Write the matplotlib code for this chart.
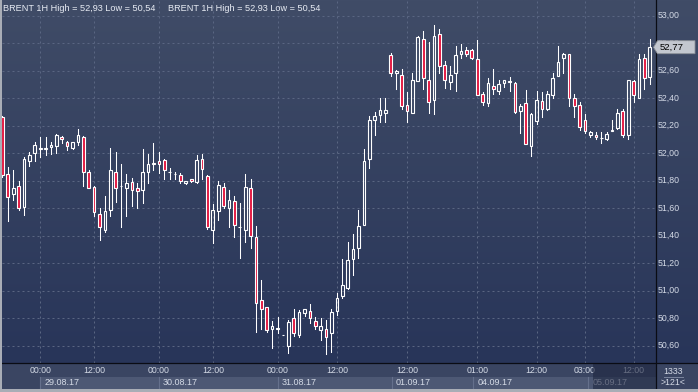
import numpy as np
import matplotlib
matplotlib.use("Agg")
import matplotlib.pyplot as plt
import matplotlib.transforms as mtransforms
from matplotlib.patches import Rectangle, Polygon
from matplotlib.lines import Line2D

plt.rcParams['font.family'] = ['Liberation Sans', 'DejaVu Sans']

# ---------------- data (BRENT 1H candles) ----------------
opens = [52.26, 51.85, 51.70, 51.76, 51.61, 51.945, 52.00, 52.03, 52.03, 52.045,
         52.05, 52.115, 52.08, 52.035, 52.085, 52.115, 51.865, 51.755, 51.555, 51.445,
         51.59, 51.865, 51.76, 51.75, 51.79, 51.75, 51.735, 51.865, 51.925, 51.94,
         51.95, 51.86, 51.846, 51.84, 51.78, 51.81, 51.79, 51.96, 51.835, 51.445,
         51.58, 51.755, 51.605, 51.65, 51.465, 51.445, 51.75, 51.39, 50.93, 50.88,
         50.725, 50.724, 50.678, 50.60, 50.80, 50.675, 50.835, 50.855, 50.78, 50.715,
         50.725, 50.69, 50.855, 50.96, 51.02, 51.23, 51.31, 51.48, 51.955, 52.245,
         52.28, 52.295, 52.715, 52.58, 52.57, 52.35, 52.295, 52.525, 52.83, 52.535,
         52.39, 52.87, 52.64, 52.52, 52.58, 52.725, 52.75, 52.75, 52.685, 52.43,
         52.365, 52.49, 52.455, 52.51, 52.52, 52.51, 52.31, 52.365, 52.055, 52.235,
         52.38, 52.325, 52.425, 52.565, 52.69, 52.72, 52.40, 52.35, 52.24, 52.135,
         52.13, 52.112, 52.105, 52.165, 52.18, 52.31, 52.13, 52.525, 52.405, 52.695,
         52.555]
highs = [52.27, 51.90, 51.88, 51.80, 51.97, 52.01, 52.08, 52.12, 52.115, 52.085,
         52.14, 52.125, 52.09, 52.085, 52.175, 52.125, 51.88, 51.76, 51.60, 51.69,
         52.035, 52.01, 51.92, 51.85, 51.82, 51.78, 52.03, 51.995, 52.075, 52.01,
         51.955, 51.895, 51.865, 51.855, 51.80, 51.815, 51.985, 51.995, 51.84, 51.63,
         51.795, 51.785, 51.73, 51.69, 51.635, 51.85, 51.81, 51.47, 51.08, 50.885,
         50.78, 50.81, 50.68, 50.785, 50.865, 50.86, 50.87, 50.90, 50.81, 50.80,
         50.785, 50.865, 50.98, 51.23, 51.355, 51.415, 51.59, 52.03, 52.27, 52.30,
         52.405, 52.405, 52.73, 52.605, 52.61, 52.445, 52.585, 52.85, 52.89, 52.81,
         52.93, 52.90, 52.67, 52.635, 52.78, 52.795, 52.775, 52.755, 52.825, 52.445,
         52.55, 52.61, 52.53, 52.535, 52.555, 52.515, 52.36, 52.46, 52.29, 52.455,
         52.445, 52.455, 52.585, 52.78, 52.73, 52.725, 52.43, 52.375, 52.285, 52.16,
         52.155, 52.155, 52.155, 52.24, 52.32, 52.32, 52.535, 52.53, 52.72, 52.72,
         52.83]
lows = [51.83, 51.51, 51.66, 51.59, 51.55, 51.91, 51.94, 51.97, 51.985, 51.995,
        52.00, 52.075, 52.02, 52.03, 52.06, 51.76, 51.745, 51.54, 51.37, 51.43,
        51.54, 51.645, 51.465, 51.54, 51.615, 51.605, 51.635, 51.785, 51.88, 51.855,
        51.81, 51.815, 51.815, 51.785, 51.775, 51.79, 51.78, 51.81, 51.45, 51.35,
        51.515, 51.605, 51.46, 51.39, 51.235, 51.355, 51.31, 50.70, 50.725, 50.70,
        50.585, 50.69, 50.675, 50.55, 50.67, 50.66, 50.815, 50.765, 50.725, 50.64,
        50.54, 50.555, 50.82, 50.95, 51.01, 51.115, 51.235, 51.475, 51.895, 52.13,
        52.23, 52.23, 52.56, 52.47, 52.32, 52.23, 52.29, 52.525, 52.47, 52.295,
        52.285, 52.585, 52.475, 52.47, 52.455, 52.695, 52.705, 52.685, 52.42, 52.35,
        52.345, 52.43, 52.43, 52.48, 52.455, 52.29, 52.15, 52.065, 51.98, 52.21,
        52.265, 52.315, 52.40, 52.56, 52.58, 52.34, 52.265, 52.17, 52.145, 52.12,
        52.105, 52.075, 52.095, 52.164, 52.175, 52.12, 52.10, 52.375, 52.40, 52.47,
        52.505]
closes = [51.84, 51.68, 51.75, 51.60, 51.96, 51.99, 52.06, 52.035, 52.035, 52.06,
          52.13, 52.10, 52.05, 52.08, 52.13, 51.86, 51.75, 51.57, 51.46, 51.58,
          51.88, 51.75, 51.762, 51.78, 51.73, 51.725, 51.86, 51.92, 51.928, 51.92,
          51.875, 51.862, 51.848, 51.795, 51.80, 51.795, 51.95, 51.885, 51.46, 51.59,
          51.77, 51.615, 51.66, 51.48, 51.466, 51.755, 51.395, 50.91, 50.865, 50.715,
          50.745, 50.726, 50.679, 50.775, 50.69, 50.845, 50.865, 50.80, 50.74, 50.745,
          50.665, 50.845, 50.945, 51.04, 51.22, 51.30, 51.47, 51.94, 52.24, 52.27,
          52.315, 52.315, 52.58, 52.595, 52.34, 52.31, 52.535, 52.845, 52.55, 52.375,
          52.85, 52.635, 52.53, 52.57, 52.715, 52.745, 52.725, 52.69, 52.425, 52.37,
          52.51, 52.47, 52.505, 52.53, 52.522, 52.30, 52.345, 52.07, 52.285, 52.39,
          52.32, 52.43, 52.55, 52.665, 52.725, 52.405, 52.34, 52.19, 52.16, 52.155,
          52.115, 52.114, 52.14, 52.172, 52.29, 52.13, 52.53, 52.42, 52.685, 52.55,
          52.77]

price_ticks = [50.60, 50.80, 51.00, 51.20, 51.40, 51.60, 51.80, 52.00, 52.20, 52.40, 52.60, 52.80, 53.00]
time_tick_idx = [7, 17, 29, 39, 51, 62, 75, 88, 99, 108, 117]
time_tick_labels = ["00:00", "12:00", "00:00", "12:00", "00:00", "12:00",
                    "12:00", "01:00", "12:00", "03:00", "12:00"]
date_starts = [7, 29, 51, 72.2, 87.3, 108.6]
date_labels = ["29.08.17", "30.08.17", "31.08.17", "01.09.17", "04.09.17", "05.09.17"]
title = "BRENT 1H High = 52,93 Low = 50,54"
last_price = 52.77
info_top = "1333"
info_bottom = ">121<"

# ---------------- layout ----------------
W, H = 698, 392
fig = plt.figure(figsize=(W / 100, H / 100), dpi=100)
fx = lambda px: px / W
fy = lambda py: 1 - py / H

PLOT_L, PLOT_R, PLOT_B = 2.0, 655.7, 363.0

# gradient background
bg = fig.add_axes([0, 0, 1, 1], zorder=0)
bg.set_axis_off()
top_c = np.array([64, 76, 103]) / 255
bot_c = np.array([40, 53, 89]) / 255
t = np.linspace(0, 1, 256)[:, None]
grad = top_c * (1 - t) + bot_c * t
img = np.repeat(grad[:, None, :], 2, axis=1)
bg.imshow(img, aspect='auto', extent=[0, 1, fy(PLOT_B), 1], origin='upper')
bg.set_xlim(0, 1)
bg.set_ylim(0, 1)

ax = fig.add_axes([fx(PLOT_L), fy(PLOT_B), fx(PLOT_R) - fx(PLOT_L), PLOT_B / H], zorder=1)
ax.patch.set_alpha(0)
for s in ax.spines.values():
    s.set_visible(False)
ax.set_xticks([])
ax.set_yticks([])
ax.set_xlim((PLOT_L - 2.4) / 5.395, (PLOT_R - 2.4) / 5.395)
ax.set_ylim(53 - (PLOT_B - 15.7) / 137.5, 53 + 15.7 / 137.5)

grid_c = '#5a6682'
for p in price_ticks:
    ax.axhline(p, color=grid_c, lw=0.72, ls=(0, (2, 3)), zorder=0)
for i in time_tick_idx:
    ax.axvline(i, color=grid_c, lw=0.72, ls=(0, (2, 3)), zorder=0)

# candles
o = np.array(opens); h = np.array(highs); l = np.array(lows); c = np.array(closes)
x = np.arange(len(o))
up = c >= o
blo = np.minimum(o, c)
bhi = np.maximum(o, c)
red = '#e3163f'
bw = 0.5
for i in range(len(o)):
    ax.add_line(Line2D([x[i], x[i]], [bhi[i], h[i]], color='white', lw=0.75, zorder=2, snap=True))
    ax.add_line(Line2D([x[i], x[i]], [l[i], blo[i]], color='white', lw=0.75, zorder=2, snap=True))
    ax.add_patch(Rectangle((x[i] - bw / 2, blo[i]), bw, bhi[i] - blo[i],
                           facecolor='none' if up[i] else red,
                           edgecolor='white', lw=0.8, zorder=3, snap=True))

# title
txt_c = '#e8ecf4'
fig.text(fx(3), fy(8.5), title, color=txt_c, fontsize=6.6, va='center', ha='left', zorder=6)
fig.text(fx(168), fy(8.5), title, color=txt_c, fontsize=6.6, va='center', ha='left', zorder=6)

# bottom band
fig.add_artist(Rectangle((0, fy(389)), 1, fy(PLOT_B) - fy(389), transform=fig.transFigure,
                         facecolor='#3a4562', edgecolor='none', zorder=2))
blend_x = mtransforms.blended_transform_factory(ax.transData, fig.transFigure)
band_c = '#4d5874'
ends = date_starts[1:] + [ax.get_xlim()[1]]
for s0, s1, lab in zip(date_starts, ends, date_labels):
    fig.add_artist(Rectangle((s0, fy(388.5)), s1 - s0, fy(376.5) - fy(388.5), transform=blend_x,
                             facecolor=band_c, edgecolor='none', zorder=2.5))
    fig.add_artist(Line2D([s0, s0], [fy(389), fy(376.5)], transform=blend_x,
                          color='#65708c', lw=0.8, zorder=2.6))
    fig.text(s0 + 0.75, fy(382.5), lab, transform=blend_x, color='#d4dae6', fontsize=6.5,
             va='center', ha='left', zorder=3)
for i, lab in zip(time_tick_idx, time_tick_labels):
    fig.text(i, fy(370.5), lab, transform=blend_x, color='#d4dae6', fontsize=6.3,
             va='center', ha='center', zorder=3)

# dim overlay at bottom right of time axis
fig.add_artist(Rectangle((fx(593), fy(389)), fx(PLOT_R) - fx(593), fy(PLOT_B) - fy(389),
                         transform=fig.transFigure, facecolor='#1e2640', alpha=0.6,
                         edgecolor='none', zorder=4))

# frame lines
fig.add_artist(Line2D([0, 1], [fy(PLOT_B), fy(PLOT_B)], transform=fig.transFigure,
                      color='#0a0c14', lw=0.9, zorder=5))
fig.add_artist(Line2D([fx(PLOT_R), fx(PLOT_R)], [fy(389), 1], transform=fig.transFigure,
                      color='#0a0c14', lw=0.9, zorder=5))
fig.add_artist(Rectangle((0, 0), 1, fy(389), transform=fig.transFigure,
                         facecolor='#a9adb6', edgecolor='none', zorder=6))
fig.add_artist(Rectangle((0, 0), fx(1.5), 1, transform=fig.transFigure,
                         facecolor='#a9adb6', edgecolor='none', zorder=6))

# price labels
blend_y = mtransforms.blended_transform_factory(fig.transFigure, ax.transData)
for p in price_ticks:
    fig.text(fx(658), p, f"{p:.2f}".replace('.', ','), transform=blend_y, color='#d4dae6',
             fontsize=6.3, va='center', ha='left', zorder=5)

# last price tag
ytag_px = 15.7 + (53 - last_price) * 137.5
tag = Polygon([(fx(653.5), fy(ytag_px)), (fx(657.5), fy(40.7)), (fx(695), fy(40.7)),
               (fx(695), fy(53.7)), (fx(657.5), fy(53.7))], closed=True,
              transform=fig.transFigure, facecolor='#c3c7cf', edgecolor='#8a8e96', lw=0.6, zorder=7)
fig.add_artist(tag)
fig.text(fx(659.5), last_price, f"{last_price:.2f}".replace('.', ','), transform=blend_y,
         color='black', fontsize=6.8, va='center', ha='left', zorder=8)

# info box bottom right
fig.text(fx(673.5), fy(371), info_top, color='#d4dae6', fontsize=6.3, va='center', ha='center', zorder=5)
fig.text(fx(673.5), fy(382.5), info_bottom, color='#d4dae6', fontsize=6.3, va='center', ha='center', zorder=5)
fig.add_artist(Line2D([fx(664), fx(683)], [fy(377.2), fy(377.2)], transform=fig.transFigure,
                      color='#7c869e', lw=0.7, zorder=5))

fig.savefig("out.png", dpi=100)
